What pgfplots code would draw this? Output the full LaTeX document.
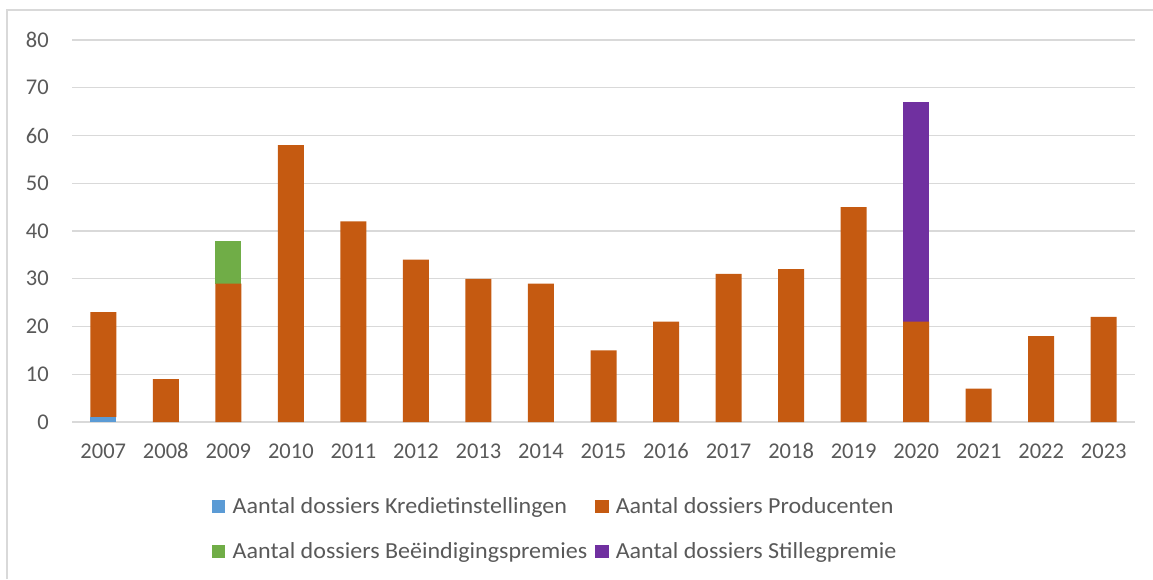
\documentclass[border=0pt]{standalone}
\usepackage{pgfplots}
\pgfplotsset{compat=1.18}
\usepackage{pgfplotstable}
\usepackage{fontspec}
\setmainfont{Carlito}
\newfontfamily\legfont{Carlito}[FakeStretch=1.045]
\definecolor{cKred}{HTML}{5B9BD5}
\definecolor{cProd}{HTML}{C55A11}
\definecolor{cBeei}{HTML}{70AD47}
\definecolor{cStil}{HTML}{7030A0}
\definecolor{cText}{HTML}{595959}
\definecolor{cGrid}{HTML}{D9D9D9}
\pgfplotstableread{
x year kred prod beei stil
0 2007 1 22 0 0
1 2008 0 9 0 0
2 2009 0 29 9 0
3 2010 0 58 0 0
4 2011 0 42 0 0
5 2012 0 34 0 0
6 2013 0 30 0 0
7 2014 0 29 0 0
8 2015 0 15 0 0
9 2016 0 21 0 0
10 2017 0 31 0 0
11 2018 0 32 0 0
12 2019 0 45 0 0
13 2020 0 21 0 46
14 2021 0 7 0 0
15 2022 0 18 0 0
16 2023 0 22 0 0
}\datatable
\pgfplotsset{sqlegend/.style={legend image code/.code={\fill[##1,draw=none] (0pt,-6.6pt) rectangle (13.3pt,6.6pt); \path (18.5pt,0pt);}}}
\begin{document}
\begin{tikzpicture}
\path[use as bounding box] (0,0) rectangle (1153pt,579pt);
\draw[cGrid, line width=1.5pt] (7pt,0) -- (7pt,569pt) -- (1153pt,569pt);
\begin{axis}[
  at={(72pt,157pt)}, anchor=south west,
  scale only axis, width=1063pt, height=382pt,
  ybar stacked, bar width=26pt,
  xmin=-0.5, xmax=16.5, ymin=0, ymax=80,
  xtick={0,...,16},
  xticklabels={2007,2008,2009,2010,2011,2012,2013,2014,2015,2016,2017,2018,2019,2020,2021,2022,2023},
  ytick={0,10,...,80},
  major tick length=0pt,
  axis line style={draw=none},
  ymajorgrids, major grid style={cGrid, line width=1.3pt},
  /pgf/number format/assume math mode=true,
  tick label style={font=\fontsize{22.5}{27}\selectfont, text=cText},
  yticklabel style={inner sep=0pt, xshift=-23pt},
  xticklabel style={inner sep=0pt, anchor=base, yshift=-36.3pt},
  legend columns=2,
  legend style={draw=none, fill=none, at={(0.1317,-0.193)}, anchor=north west,
    font=\legfont\fontsize{23}{27}\selectfont, text=cText,
    /tikz/every even column/.append style={column sep=6pt},
    row sep=23pt, inner sep=0pt},
  legend cell align=left,
]
\addplot[fill=cKred, draw=none, sqlegend] table[x=x, y=kred] {\datatable};
\addlegendentry{Aantal dossiers Kredietinstellingen}
\addplot[fill=cProd, draw=none, sqlegend] table[x=x, y=prod] {\datatable};
\addlegendentry{Aantal dossiers Producenten}
\addplot[fill=cBeei, draw=none, sqlegend] table[x=x, y=beei] {\datatable};
\addlegendentry{Aantal dossiers Beëindigingspremies}
\addplot[fill=cStil, draw=none, sqlegend] table[x=x, y=stil] {\datatable};
\addlegendentry{Aantal dossiers Stillegpremie}
\end{axis}
\end{tikzpicture}
\end{document}
